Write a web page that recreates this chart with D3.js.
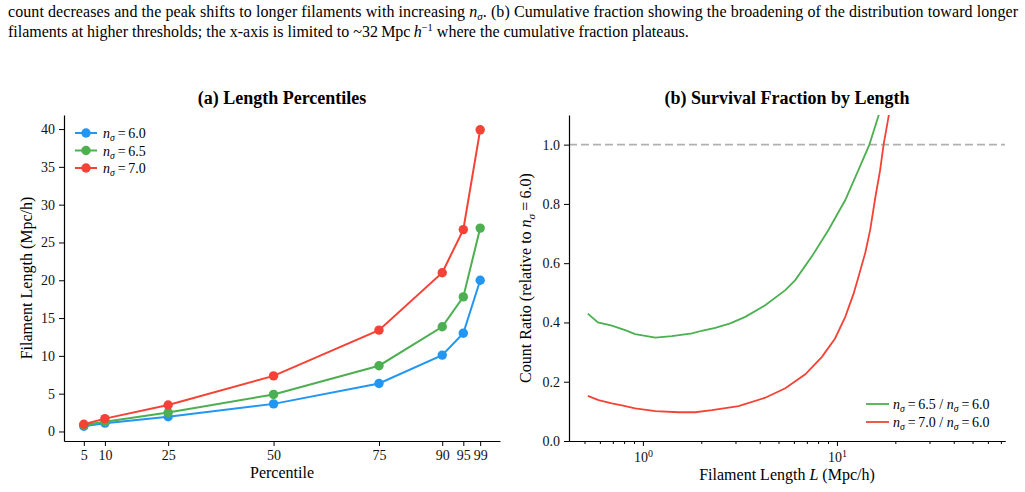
<!DOCTYPE html>
<html>
<head>
<meta charset="utf-8">
<script src="https://cdn.jsdelivr.net/npm/d3@7"></script>
<style>
  body { margin: 0; background: white; }
  svg { display: block; font-family: "Liberation Serif", "DejaVu Serif", serif; }
</style>
</head>
<body>
<div id="chart"></div>
<script>
// (a) percentile lengths, Mpc/h
var percentiles = [5, 10, 25, 50, 75, 90, 95, 99];
var len60 = [0.7, 1.1, 1.95, 3.65, 6.35, 10.1, 13.0, 20.0];
var len65 = [0.85, 1.3, 2.5, 4.9, 8.7, 13.85, 17.8, 26.9];
var len70 = [0.95, 1.7, 3.5, 7.35, 13.4, 21.0, 26.7, 39.9];

// (b) count ratio vs filament length
var ratioL65 = [0.52, 0.586, 0.692, 0.81, 0.912, 1.16, 1.41, 1.79, 2.01, 2.36, 2.82, 3.37, 4.27, 5.42, 6.1, 7.43, 9.06, 11.04, 12.9, 14.7, 16.4, 17.5];
var ratio65  = [0.430, 0.400, 0.389, 0.374, 0.361, 0.349, 0.354, 0.363, 0.372, 0.382, 0.397, 0.419, 0.458, 0.509, 0.543, 0.623, 0.713, 0.813, 0.914, 1.0, 1.098, 1.16];
var ratioL70 = [0.52, 0.591, 0.692, 0.78, 0.912, 1.16, 1.53, 1.86, 2.27, 3.11, 4.27, 5.42, 6.87, 8.37, 9.78, 11.04, 12.2, 12.8, 14.0, 14.85, 15.8, 16.7, 17.4, 18.5, 19.2];
var ratio70  = [0.152, 0.138, 0.127, 0.120, 0.110, 0.101, 0.097, 0.097, 0.104, 0.118, 0.146, 0.178, 0.225, 0.284, 0.346, 0.419, 0.498, 0.545, 0.635, 0.713, 0.825, 0.914, 1.0, 1.098, 1.16];

var yTicksA = [0, 5, 10, 15, 20, 25, 30, 35, 40];
var yTicksB = [0, 0.2, 0.4, 0.6, 0.8, 1.0];
var xMajorB = [1, 10];
var xMinorB = [0.5, 0.6, 0.7, 0.8, 0.9, 2, 3, 4, 5, 6, 7, 8, 9, 20, 30, 40, 50, 60, 70];

var seriesA = [
  { nsig: "6.0", values: len60, color: "#2196F3" },
  { nsig: "6.5", values: len65, color: "#4CAF50" },
  { nsig: "7.0", values: len70, color: "#F44336" }
];
var seriesB = [
  { label: ["6.5", "6.0"], xs: ratioL65, ys: ratio65, color: "#4CAF50" },
  { label: ["7.0", "6.0"], xs: ratioL70, ys: ratio70, color: "#F44336" }
];

var svg = d3.select("#chart").append("svg")
            .attr("width", 1025)
            .attr("height", 492);

// writes "n_sigma = v" style math into a text element
function nsig(text, value, size) {
  text.append("tspan").style("font-style", "italic").text("n");
  text.append("tspan").attr("dy", size * 0.22).style("font-size", (size * 0.7) + "px").style("font-style", "italic").text("σ");
  text.append("tspan").attr("dy", -size * 0.22).text("\u2009=\u2009" + value);
}

// caption (cut-off figure text above the panels)
var cap1 = svg.append("text").attr("x", 8).attr("y", 17).style("font-size", "16px")
              .attr("textLength", 1010).attr("lengthAdjust", "spacing");
cap1.append("tspan").text("count decreases and the peak shifts to longer filaments with increasing ");
cap1.append("tspan").style("font-style", "italic").text("n");
cap1.append("tspan").attr("dy", 3).style("font-size", "11px").style("font-style", "italic").text("σ");
cap1.append("tspan").attr("dy", -3).text(". (b) Cumulative fraction showing the broadening of the distribution toward longer");

var cap2 = svg.append("text").attr("x", 8).attr("y", 37).style("font-size", "16px");
cap2.append("tspan").text("filaments at higher thresholds; the x-axis is limited to ~32\u2009Mpc\u2009");
cap2.append("tspan").style("font-style", "italic").text("h");
cap2.append("tspan").attr("dy", -6).style("font-size", "10.5px").text("\u22121");
cap2.append("tspan").attr("dy", 6).text(" where the cumulative fraction plateaus.");

// ---------- panel (a) ----------
var xA = d3.scaleLinear().domain([0.3, 103.7]).range([64, 500]);
var yA = d3.scaleLinear().domain([-1.26, 41.86]).range([441, 115]);

var gA = svg.append("g");

gA.append("g").attr("transform", "translate(0,441)")
  .call(d3.axisBottom(xA).tickValues(percentiles).tickSize(5).tickSizeOuter(0).tickPadding(4));
gA.append("g").attr("transform", "translate(64,0)")
  .call(d3.axisLeft(yA).tickValues(yTicksA).tickSize(5).tickSizeOuter(0).tickPadding(4));

var lineA = d3.line()
              .x(function (d, i) { return xA(percentiles[i]); })
              .y(function (d) { return yA(d); });

seriesA.forEach(function (s) {
  gA.append("path")
    .attr("d", lineA(s.values))
    .style("fill", "none")
    .style("stroke", s.color)
    .style("stroke-width", 2);
  gA.selectAll(null)
    .data(s.values)
    .enter()
    .append("circle")
    .attr("cx", function (d, i) { return xA(percentiles[i]); })
    .attr("cy", function (d) { return yA(d); })
    .attr("r", 4.7)
    .style("fill", s.color);
});

// legend (a)
seriesA.forEach(function (s, i) {
  var y = 133 + i * 17.5;
  gA.append("line").attr("x1", 75).attr("x2", 97).attr("y1", y).attr("y2", y)
    .style("stroke", s.color).style("stroke-width", 2);
  gA.append("circle").attr("cx", 86).attr("cy", y).attr("r", 4.7).style("fill", s.color);
  var t = gA.append("text").attr("x", 103).attr("y", y + 5).style("font-size", "14px");
  nsig(t, s.nsig, 14);
});

gA.append("text").attr("x", 282).attr("y", 104).attr("text-anchor", "middle")
  .style("font-size", "18px").style("font-weight", "bold").text("(a) Length Percentiles");
gA.append("text").attr("x", 282).attr("y", 478).attr("text-anchor", "middle")
  .style("font-size", "16px").text("Percentile");
gA.append("text").attr("transform", "translate(32,278) rotate(-90)").attr("text-anchor", "middle")
  .style("font-size", "16px").text("Filament Length (Mpc/h)");

// ---------- panel (b) ----------
var xB = d3.scaleLog().domain([0.416, 73.5]).range([569, 1005]);
var yB = d3.scaleLinear().domain([0, 1.1]).range([441, 115]);

var gB = svg.append("g");

svg.append("clipPath").attr("id", "clipB")
   .append("rect").attr("x", 569).attr("y", 115).attr("width", 436).attr("height", 326);

gB.append("line")
  .attr("x1", 569).attr("x2", 1005).attr("y1", yB(1)).attr("y2", yB(1))
  .style("stroke", "#b0b0b0").style("stroke-width", 1.6).style("stroke-dasharray", "8,4");

var lineB = d3.line()
              .x(function (d) { return xB(d[0]); })
              .y(function (d) { return yB(d[1]); });

seriesB.forEach(function (s) {
  gB.append("path")
    .attr("d", lineB(d3.zip(s.xs, s.ys)))
    .attr("clip-path", "url(#clipB)")
    .style("fill", "none")
    .style("stroke", s.color)
    .style("stroke-width", 1.8);
});

gB.append("g").attr("transform", "translate(0,441)")
  .call(d3.axisBottom(xB).tickValues(xMinorB).tickSize(3).tickSizeOuter(0).tickFormat(""));
var xAxB = gB.append("g").attr("transform", "translate(0,441)")
  .call(d3.axisBottom(xB).tickValues(xMajorB).tickSize(5).tickSizeOuter(0).tickPadding(6).tickFormat(""));
xAxB.selectAll(".tick text").each(function (d) {
  var t = d3.select(this);
  t.append("tspan").text("10");
  t.append("tspan").attr("dy", -5).style("font-size", "10px").text(Math.round(Math.log10(d)));
});
gB.append("g").attr("transform", "translate(569,0)")
  .call(d3.axisLeft(yB).tickValues(yTicksB).tickSize(5).tickSizeOuter(0).tickPadding(4).tickFormat(d3.format(".1f")));

// legend (b)
seriesB.forEach(function (s, i) {
  var y = 404 + i * 18;
  gB.append("line").attr("x1", 866).attr("x2", 889).attr("y1", y).attr("y2", y)
    .style("stroke", s.color).style("stroke-width", 1.8);
  var t = gB.append("text").attr("x", 893).attr("y", y + 5).style("font-size", "14px");
  nsig(t, s.label[0], 14);
  t.append("tspan").text(" / ");
  nsig(t, s.label[1], 14);
});

gB.append("text").attr("x", 787).attr("y", 104).attr("text-anchor", "middle")
  .style("font-size", "18px").style("font-weight", "bold").text("(b) Survival Fraction by Length");
var xl = gB.append("text").attr("x", 787).attr("y", 480).attr("text-anchor", "middle").style("font-size", "16px");
xl.append("tspan").text("Filament Length ");
xl.append("tspan").style("font-style", "italic").text("L");
xl.append("tspan").text(" (Mpc/h)");
var yl = gB.append("text").attr("transform", "translate(531,278) rotate(-90)").attr("text-anchor", "middle").style("font-size", "16px");
yl.append("tspan").text("Count Ratio (relative to ");
nsig(yl, "6.0", 16);
yl.append("tspan").text(")");

svg.selectAll(".domain").style("stroke", "#000").style("stroke-width", 1.2);
svg.selectAll(".tick line").style("stroke", "#000");
svg.selectAll(".tick text")
   .style("font-family", "'Liberation Serif', 'DejaVu Serif', serif")
   .style("font-size", "14px")
   .style("fill", "#111");
</script>
</body>
</html>
